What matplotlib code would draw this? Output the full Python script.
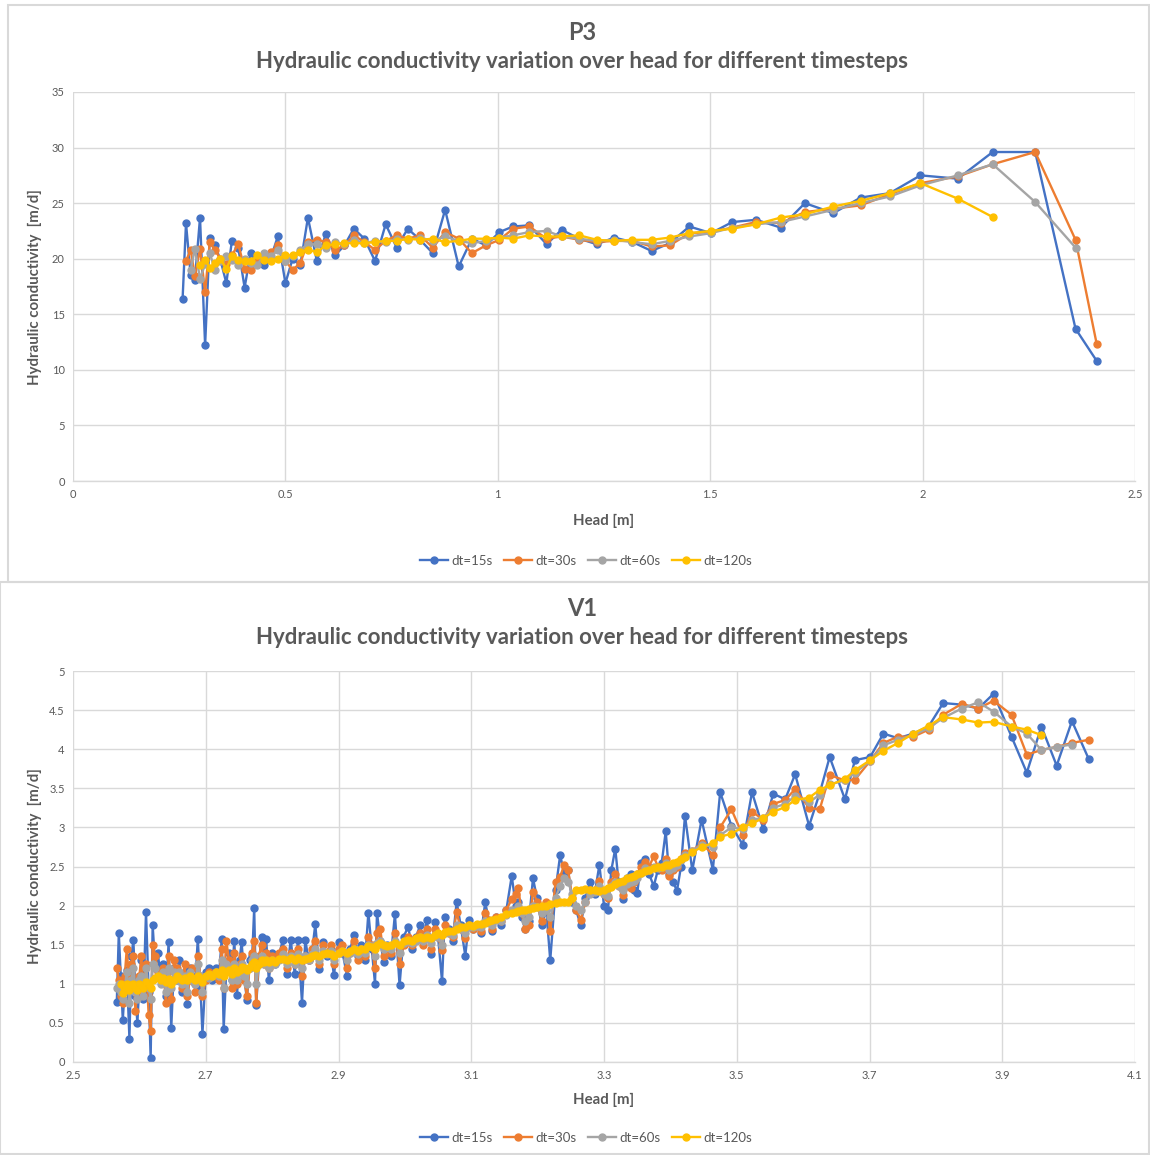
import numpy as np
import matplotlib
matplotlib.use("Agg")
import matplotlib.pyplot as plt
from matplotlib.patches import Rectangle

plt.rcParams['font.family'] = ['Lato', 'DejaVu Sans']

W, H = 1150, 1155

series_names = ["dt=15s", "dt=30s", "dt=60s", "dt=120s"]
series_colors = ["#4472C4", "#ED7D31", "#A5A5A5", "#FFC000"]

# ---------------- P3 data ----------------
p3_head = [0.258, 0.266, 0.277, 0.287, 0.299, 0.311, 0.322, 0.334, 0.347, 0.361,
           0.374, 0.389, 0.404, 0.418, 0.434, 0.450, 0.466, 0.482, 0.500, 0.517,
           0.535, 0.553, 0.574, 0.595, 0.617, 0.639, 0.661, 0.686, 0.711, 0.736,
           0.762, 0.788, 0.817, 0.847, 0.876, 0.908, 0.939, 0.972, 1.004, 1.036,
           1.074, 1.115, 1.150, 1.192, 1.233, 1.274, 1.317, 1.362, 1.405, 1.451,
           1.502, 1.552, 1.608, 1.666, 1.723, 1.790, 1.854, 1.923, 1.995, 2.083,
           2.165, 2.265, 2.360, 2.410]
p3_dt15 = [16.4, 23.2, 18.5, 18.1, 23.7, 12.2, 21.9, 21.2, 19.9, 17.8,
           21.6, 21.0, 17.4, 20.5, 19.6, 19.4, 20.1, 22.0, 17.8, 20.0,
           19.4, 23.7, 19.8, 22.2, 20.3, 21.2, 22.7, 21.8, 19.8, 23.1,
           21.0, 22.7, 21.7, 20.5, 24.4, 19.3, 21.8, 21.2, 22.4, 22.9,
           23.0, 21.3, 22.6, 21.8, 21.3, 21.9, 21.5, 20.7, 21.4, 22.9,
           22.3, 23.3, 23.5, 22.8, 25.0, 24.1, 25.5, 25.9, 27.5, 27.2,
           29.6, 29.6, 13.7, 10.8]
p3_dt30 = [None, 19.8, 20.8, 18.4, 20.9, 17.0, 21.5, 20.8, 20.0, 19.5,
           20.3, 21.3, 19.1, 19.0, 19.8, 20.2, 20.6, 21.2, 19.8, 19.0,
           19.6, 21.5, 21.7, 21.5, 20.8, 21.2, 22.1, 21.5, 20.8, 21.6,
           22.1, 21.8, 22.1, 21.0, 22.4, 21.8, 20.5, 21.2, 21.7, 22.7,
           22.9, 21.8, 22.0, 21.7, 21.5, 21.6, 21.6, 21.1, 21.2, 22.3,
           22.4, 22.8, 23.3, 23.2, 24.2, 24.5, 24.8, 25.8, 26.8, 27.4,
           28.5, 29.6, 21.7, 12.3]
p3_dt60 = [None, None, 19.0, 20.9, 18.2, 19.5, 20.5, 19.0, 19.8, 20.2,
           19.9, 19.4, 20.0, 19.6, 19.4, 20.5, 20.2, 20.8, 19.8, 20.2,
           20.8, 21.3, 21.3, 21.0, 21.5, 21.3, 21.7, 21.4, 21.6, 21.5,
           21.8, 21.7, 21.9, 21.6, 22.0, 21.6, 21.4, 21.6, 21.9, 22.1,
           22.4, 22.5, 22.0, 21.8, 21.6, 21.7, 21.5, 21.3, 21.6, 22.0,
           22.3, 22.8, 23.1, 23.3, 23.8, 24.4, 25.0, 25.6, 26.6, 27.5,
           28.5, 25.1, 21.0, None]
p3_dt120 = [None, None, None, None, 19.4, 19.9, 19.2, 19.6, 20.0, 19.1,
            20.2, 19.9, 19.8, 19.8, 20.3, 19.9, 19.8, 20.0, 20.3, 20.3,
            20.6, 20.8, 20.6, 21.2, 21.3, 21.4, 21.4, 21.4, 21.5, 21.6,
            21.6, 21.8, 21.7, 21.8, 21.5, 21.6, 21.8, 21.8, 21.9, 21.8,
            22.1, 22.0, 22.0, 22.1, 21.7, 21.6, 21.7, 21.7, 21.9, 22.3,
            22.5, 22.7, 23.1, 23.7, 24.0, 24.7, 25.2, 25.9, 26.8, 25.4,
            23.75, None, None, None]

# ---------------- V1 data ----------------
v1_head = [2.566, 2.569, 2.572, 2.575, 2.578, 2.581, 2.585, 2.588, 2.591, 2.594,
           2.597, 2.600, 2.603, 2.606, 2.610, 2.614, 2.617, 2.620, 2.624, 2.628,
           2.632, 2.636, 2.640, 2.644, 2.648, 2.652, 2.656, 2.660, 2.664, 2.668,
           2.672, 2.676, 2.680, 2.684, 2.688, 2.692, 2.695, 2.700, 2.705, 2.710,
           2.715, 2.720, 2.724, 2.727, 2.731, 2.735, 2.739, 2.743, 2.747, 2.751,
           2.754, 2.758, 2.762, 2.766, 2.770, 2.773, 2.776, 2.780, 2.784, 2.788,
           2.791,
           2.795, 2.800, 2.805, 2.810, 2.816, 2.822, 2.828, 2.834, 2.839, 2.845,
           2.850, 2.855, 2.860, 2.865, 2.871, 2.876, 2.882, 2.888, 2.893, 2.900,
           2.906, 2.913, 2.918, 2.923, 2.929, 2.934, 2.940, 2.945, 2.950, 2.955,
           2.958, 2.963, 2.968, 2.973, 2.979, 2.985, 2.992, 2.998,
           3.005, 3.011, 3.017, 3.023, 3.028, 3.033, 3.040, 3.045, 3.050, 3.056,
           3.060, 3.066, 3.072, 3.078, 3.084, 3.091, 3.097, 3.103, 3.109, 3.115,
           3.121, 3.127, 3.131, 3.138, 3.145, 3.153, 3.161, 3.167, 3.171, 3.176,
           3.181, 3.187, 3.193, 3.199, 3.206, 3.213, 3.219, 3.227, 3.234, 3.240,
           3.246, 3.252, 3.258, 3.265, 3.272, 3.279, 3.286, 3.293, 3.300, 3.306,
           3.311, 3.317, 3.322, 3.328, 3.334, 3.340, 3.345, 3.350, 3.356, 3.362,
           3.368, 3.375, 3.381, 3.387, 3.393, 3.398, 3.404, 3.410, 3.416, 3.422,
           3.433, 3.447, 3.464, 3.475, 3.492, 3.509, 3.523, 3.540, 3.555, 3.573,
           3.588, 3.609, 3.625, 3.640, 3.663, 3.678, 3.701, 3.721, 3.743, 3.766,
           3.789, 3.811, 3.839, 3.864, 3.887, 3.914, 3.937, 3.959, 3.982, 4.005,
           4.030]
v1_dt15 = [0.77, 1.65, 1.10, 0.54, 0.95, 1.18, 0.30, 1.35, 1.56, 0.85,
           0.50, 1.00, 1.30, 0.80, 1.92, 0.90, 0.05, 1.75, 1.20, 1.39,
           1.05, 1.25, 0.85, 1.53, 0.43, 1.20, 1.05, 1.30, 0.90, 1.15,
           0.74, 1.20, 1.10, 1.00, 1.57, 0.95, 0.36, 1.15, 1.20, 1.05,
           1.20, 1.10, 1.57, 0.42, 1.20, 1.40, 1.05, 1.55, 0.86, 1.30,
           1.53, 1.10, 0.79, 1.30, 1.35, 1.97, 0.73, 1.25, 1.60, 1.30,
           1.57,
           1.05, 1.40, 1.25, 1.35, 1.56, 1.13, 1.56, 1.13, 1.56, 0.76,
           1.56, 1.30, 1.40, 1.76, 1.19, 1.54, 1.35, 1.45, 1.11, 1.54,
           1.40, 1.10, 1.45, 1.62, 1.35, 1.50, 1.30, 1.91, 1.45, 1.00,
           1.91, 1.55, 1.28, 1.50, 1.35, 1.89, 0.98, 1.60,
           1.73, 1.45, 1.60, 1.75, 1.55, 1.81, 1.38, 1.79, 1.60, 1.03,
           1.85, 1.70, 1.55, 2.05, 1.75, 1.36, 1.82, 1.70, 1.75, 1.65,
           2.04, 1.80, 1.67, 1.85, 1.75, 1.95, 2.38, 2.00, 2.05, 1.85,
           1.70, 1.80, 2.35, 2.10, 1.75, 1.95, 1.30, 2.20, 2.65, 2.40,
           2.45, 2.05, 1.94, 1.75, 2.10, 2.30, 2.15, 2.52, 2.00, 1.95,
           2.45, 2.73, 2.30, 2.08, 2.35, 2.40, 2.20, 2.16, 2.55, 2.60,
           2.40, 2.25, 2.45, 2.55, 2.95, 2.40, 2.30, 2.19, 2.50, 3.15,
           2.45, 3.10, 2.46, 3.45, 3.02, 2.78, 3.45, 2.98, 3.43, 3.36,
           3.68, 3.02, 3.44, 3.90, 3.36, 3.86, 3.90, 4.20, 4.14, 4.20,
           4.29, 4.59, 4.57, 4.52, 4.71, 4.16, 3.70, 4.29, 3.79, 4.36,
           3.88]
v1_dt30 = [1.20, 1.05, 0.85, 0.75, 1.10, 1.45, 0.95, 1.25, 1.35, 0.65,
           0.90, 1.10, 1.35, 0.95, 1.25, 0.60, 0.40, 1.50, 1.35, 1.15,
           1.05, 1.20, 0.75, 1.35, 0.80, 1.30, 1.20, 1.10, 0.95, 1.25,
           0.85, 1.05, 1.20, 0.90, 1.35, 1.10, 0.85, 1.05, 1.15, 1.10,
           1.15, 1.05, 1.45, 0.95, 1.55, 1.30, 0.95, 1.40, 1.00, 1.25,
           1.35, 1.05, 0.85, 1.20, 1.40, 1.55, 0.75, 1.35, 1.50, 1.25,
           1.40,
           1.20, 1.35, 1.30, 1.40, 1.45, 1.20, 1.40, 1.25, 1.45, 1.10,
           1.35, 1.30, 1.45, 1.55, 1.25, 1.50, 1.40, 1.50, 1.25, 1.45,
           1.50, 1.20, 1.40, 1.55, 1.30, 1.45, 1.35, 1.60, 1.50, 1.20,
           1.65, 1.70, 1.35, 1.45, 1.40, 1.65, 1.25, 1.50,
           1.60, 1.50, 1.58, 1.65, 1.50, 1.70, 1.45, 1.70, 1.60, 1.43,
           1.75, 1.65, 1.60, 1.92, 1.70, 1.58, 1.75, 1.70, 1.75, 1.68,
           1.90, 1.82, 1.70, 1.85, 1.80, 1.95, 2.08, 2.15, 2.22, 1.90,
           1.70, 1.75, 2.18, 2.05, 1.80, 2.05, 1.67, 2.30, 2.37, 2.52,
           2.45, 2.10, 1.95, 1.82, 2.05, 2.20, 2.20, 2.31, 2.15, 2.10,
           2.30, 2.40, 2.25, 2.13, 2.25, 2.22, 2.30, 2.40, 2.50, 2.56,
           2.50, 2.63, 2.50, 2.45, 2.60, 2.38, 2.45, 2.50, 2.60, 2.67,
           2.70, 2.80, 2.65, 3.00, 3.23, 2.90, 3.20, 3.10, 3.30, 3.35,
           3.49, 3.25, 3.23, 3.67, 3.60, 3.61, 3.85, 4.08, 4.16, 4.16,
           4.25, 4.44, 4.58, 4.52, 4.62, 4.44, 3.93, 3.99, 4.03, 4.08,
           4.12]
v1_dt60 = [0.95, 1.00, 0.90, 0.80, 0.95, 1.15, 0.75, 1.05, 1.20, 0.90,
           0.80, 1.05, 1.10, 0.85, 1.20, 0.95, 0.80, 1.25, 1.20, 1.10,
           1.00, 1.15, 0.90, 1.20, 0.95, 1.15, 1.05, 1.15, 1.00, 1.10,
           0.90, 1.15, 1.05, 1.00, 1.25, 1.10, 0.90, 1.10, 1.08, 1.10,
           1.15, 1.10, 1.30, 0.95, 1.25, 1.20, 1.05, 1.25, 1.05, 1.15,
           1.25, 1.10, 1.00, 1.20, 1.30, 1.35, 1.00, 1.25, 1.35, 1.25,
           1.30,
           1.20, 1.30, 1.25, 1.30, 1.38, 1.25, 1.35, 1.25, 1.38, 1.20,
           1.35, 1.30, 1.38, 1.45, 1.30, 1.42, 1.38, 1.42, 1.30, 1.40,
           1.42, 1.30, 1.40, 1.45, 1.38, 1.45, 1.40, 1.50, 1.48, 1.35,
           1.52, 1.55, 1.45, 1.48, 1.45, 1.55, 1.40, 1.52,
           1.55, 1.52, 1.55, 1.60, 1.55, 1.62, 1.52, 1.62, 1.60, 1.50,
           1.65, 1.65, 1.62, 1.75, 1.70, 1.65, 1.72, 1.72, 1.74, 1.72,
           1.80, 1.78, 1.75, 1.82, 1.80, 1.88, 1.95, 1.95, 2.00, 1.90,
           1.80, 1.85, 2.00, 1.98, 1.90, 1.95, 1.85, 2.10, 2.25, 2.35,
           2.30, 2.15, 2.00, 1.95, 2.05, 2.15, 2.18, 2.25, 2.15, 2.12,
           2.25, 2.30, 2.25, 2.20, 2.28, 2.30, 2.32, 2.35, 2.42, 2.48,
           2.45, 2.50, 2.48, 2.50, 2.55, 2.45, 2.48, 2.52, 2.58, 2.65,
           2.70, 2.78, 2.75, 2.90, 3.00, 2.98, 3.10, 3.12, 3.25, 3.30,
           3.40, 3.32, 3.42, 3.55, 3.60, 3.70, 3.85, 4.05, 4.12, 4.18,
           4.27, 4.40, 4.52, 4.60, 4.48, 4.29, 4.20, 3.99, 4.03, 4.06,
           None]
v1_dt120 = [None, None, 1.00, 0.88, 0.95, 1.00, 0.92, 0.98, 1.00, 0.95,
            0.92, 1.00, 0.97, 0.95, 1.02, 0.98, 0.95, 1.05, 1.08, 1.10,
            1.05, 1.08, 1.02, 1.06, 1.00, 1.05, 1.10, 1.08, 1.05, 1.07,
            1.05, 1.10, 1.08, 1.05, 1.10, 1.08, 1.02, 1.10, 1.12, 1.10,
            1.15, 1.12, 1.18, 1.10, 1.15, 1.18, 1.12, 1.20, 1.15, 1.18,
            1.22, 1.20, 1.18, 1.22, 1.25, 1.28, 1.20, 1.25, 1.30, 1.28,
            1.30,
            1.28, 1.30, 1.28, 1.32, 1.32, 1.30, 1.33, 1.30, 1.33, 1.30,
            1.32, 1.33, 1.35, 1.37, 1.35, 1.38, 1.40, 1.38, 1.36, 1.40,
            1.42, 1.40, 1.42, 1.44, 1.42, 1.45, 1.44, 1.48, 1.47, 1.45,
            1.50, 1.52, 1.50, 1.48, 1.50, 1.52, 1.50, 1.55,
            1.56, 1.55, 1.58, 1.60, 1.58, 1.60, 1.58, 1.62, 1.65, 1.62,
            1.66, 1.68, 1.68, 1.70, 1.72, 1.72, 1.75, 1.74, 1.76, 1.76,
            1.78, 1.80, 1.82, 1.83, 1.85, 1.89, 1.90, 1.92, 1.93, 1.95,
            1.95, 1.96, 1.97, 1.98, 2.00, 2.00, 2.02, 2.03, 2.05, 2.04,
            2.05, 2.10, 2.20, 2.20, 2.21, 2.20, 2.20, 2.19, 2.20, 2.22,
            2.24, 2.28, 2.30, 2.32, 2.35, 2.37, 2.38, 2.40, 2.42, 2.44,
            2.45, 2.48, 2.49, 2.50, 2.52, 2.52, 2.55, 2.56, 2.60, 2.62,
            2.68, 2.75, 2.80, 2.88, 2.92, 3.00, 3.05, 3.12, 3.20, 3.26,
            3.35, 3.38, 3.48, 3.54, 3.62, 3.73, 3.86, 3.98, 4.08, 4.20,
            4.30, 4.41, 4.38, 4.34, 4.35, 4.29, 4.25, 4.18, None, None,
            None]

p3_xticks = [0, 0.5, 1, 1.5, 2, 2.5]
p3_xticklabels = ["0", "0.5", "1", "1.5", "2", "2.5"]
p3_yticks = [0, 5, 10, 15, 20, 25, 30, 35]
v1_xticks = [2.5, 2.7, 2.9, 3.1, 3.3, 3.5, 3.7, 3.9, 4.1]
v1_yticks = [0, 0.5, 1, 1.5, 2, 2.5, 3, 3.5, 4, 4.5, 5]
v1_yticklabels = ["0", "0.5", "1", "1.5", "2", "2.5", "3", "3.5", "4", "4.5", "5"]

TXT = "#595959"
GRID = "#D9D9D9"

fig = plt.figure(figsize=(W / 100, H / 100), dpi=100)
fig.patch.set_facecolor("white")


def fx(px):
    return px / W


def fy(py):
    return 1 - py / H


# panel borders
for (x0, y0, x1, y1) in [(8, 5, 1149, 582), (0, 582, 1149, 1154)]:
    fig.add_artist(Rectangle((fx(x0), fy(y1)), fx(x1) - fx(x0), fy(y0) - fy(y1),
                             transform=fig.transFigure, fill=False,
                             edgecolor=GRID, linewidth=1.5))


def make_panel(top, bottom, title, xs, ys_list, xlim, ylim, xticks, xticklabels,
               yticks, yticklabels, title_y, sub_y, xlabel_y):
    ax = fig.add_axes([fx(73), fy(bottom), fx(1135) - fx(73), fy(top) - fy(bottom)])
    x = np.array(xs, dtype=float)
    for ys, name, col in zip(ys_list, series_names, series_colors):
        y = np.array(ys, dtype=float)
        ax.plot(x, y, color=col, lw=1.7, marker="o", ms=5, mec=col, mfc=col,
                label=name, solid_joinstyle="round")
    ax.set_xlim(*xlim)
    ax.set_ylim(*ylim)
    ax.set_xticks(xticks)
    ax.set_xticklabels(xticklabels)
    ax.set_yticks(yticks)
    ax.set_yticklabels(yticklabels)
    ax.grid(True, color=GRID, lw=1.0)
    ax.set_axisbelow(True)
    for s in ["top", "right", "left"]:
        ax.spines[s].set_visible(False)
    ax.spines["bottom"].set_color(GRID)
    ax.spines["bottom"].set_linewidth(1.0)
    ax.tick_params(length=0, labelsize=8, labelcolor=TXT, pad=6)
    fig.text(fx(582), fy(title_y), title, ha="center", va="center",
             fontsize=17, fontweight="bold", color=TXT)
    fig.text(fx(582), fy(sub_y), "Hydraulic conductivity variation over head for different timesteps",
             ha="center", va="center", fontsize=16, fontweight="bold", color=TXT)
    fig.text(fx(604), fy(xlabel_y), "Head [m]", ha="center", va="center",
             fontsize=10.8, fontweight="bold", color=TXT)
    return ax


ax1 = make_panel(92, 481, "P3", p3_head, [p3_dt15, p3_dt30, p3_dt60, p3_dt120],
                 (0, 2.5), (0, 35), p3_xticks, p3_xticklabels,
                 p3_yticks, [str(v) for v in p3_yticks], 32, 61, 521)
fig.text(fx(35), fy(287), "Hydraulic conductivity  [m/d]", rotation=90, ha="center",
         va="center", fontsize=10.8, fontweight="bold", color=TXT)

ax2 = make_panel(671, 1062, "V1", v1_head, [v1_dt15, v1_dt30, v1_dt60, v1_dt120],
                 (2.5, 4.1), (0, 5), v1_xticks, [f"{v:g}" for v in v1_xticks],
                 v1_yticks, v1_yticklabels, 609, 638, 1100)
fig.text(fx(35), fy(866), "Hydraulic conductivity  [m/d]", rotation=90, ha="center",
         va="center", fontsize=10.8, fontweight="bold", color=TXT)

for ax, ly in [(ax1, 561), (ax2, 1138)]:
    h, l = ax.get_legend_handles_labels()
    leg = fig.legend(h, l, loc="center", bbox_to_anchor=(fx(586), fy(ly)), ncol=4,
                     frameon=False, fontsize=9.5, handlelength=2.1, columnspacing=0.9,
                     handletextpad=0.25, borderaxespad=0)
    for t in leg.get_texts():
        t.set_color(TXT)
    for lh in leg.get_lines():
        lh.set_markersize(5)

fig.savefig("out.png", dpi=100)
